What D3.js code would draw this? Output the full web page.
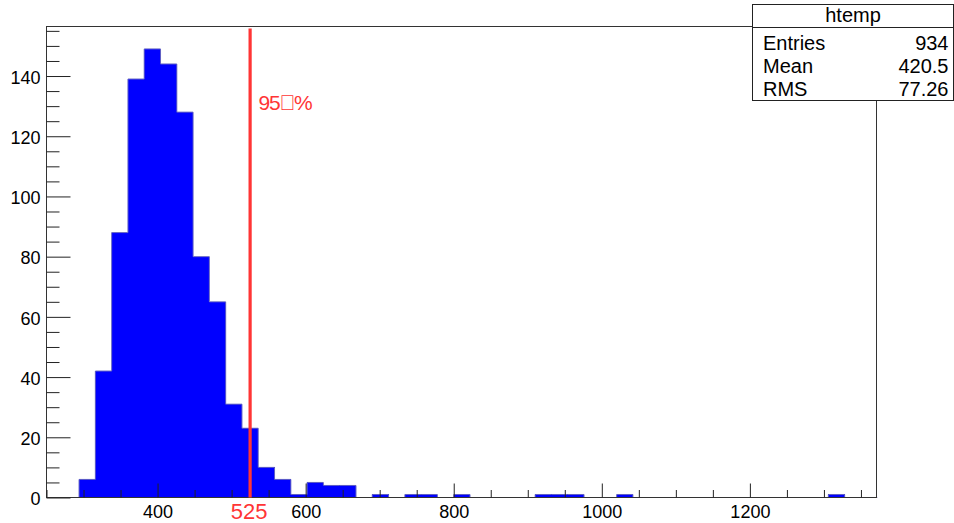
<!DOCTYPE html>
<html>
<head>
<meta charset="utf-8">
<script src="https://cdn.jsdelivr.net/npm/d3@7"></script>
<style>
  html, body { margin: 0; padding: 0; background: #fff; }
  svg { display: block; font-family: "Liberation Sans", Arial, Helvetica, sans-serif; }
</style>
</head>
<body>
<svg id="chart" width="954" height="523"></svg>
<script>
// ---- data ----
const histName = "htemp";
const binLow = 250;
const binWidth = 22;
const xMax = 1371;
const counts = [0, 0, 6, 42, 88, 139, 149, 144, 128, 80, 65, 31, 23, 10, 6, 1, 5, 4, 4, 0,
                1, 0, 1, 1, 0, 1, 0, 0, 0, 0, 1, 1, 1, 0, 0, 1, 0, 0, 0, 0,
                0, 0, 0, 0, 0, 0, 0, 0, 1, 0, 0];
const yMax = 156.45;
const xMajorTicks = [400, 600, 800, 1000, 1200];
const xMinorTicks = d3.range(250, 1371, 50);
const yMajorTicks = [0, 20, 40, 60, 80, 100, 120, 140];
const yMinorTicks = d3.range(0, 156, 5);
const cutValue = 525;
const cutTop = 155.8;
const cutLabel = "95\uE000%";
const cutTickLabel = "525";
const statsLabels = ["Entries", "Mean", "RMS"];
const statsValues = ["934", "420.5", "77.26"];

// ---- layout ----
const frame = { left: 46.5, right: 876.5, top: 26.5, bottom: 497.5 };
const svg = d3.select("#chart");

const x = d3.scaleLinear().domain([binLow, xMax]).range([frame.left, frame.right]);
const y = d3.scaleLinear().domain([0, yMax]).range([frame.bottom, frame.top]);

const allBins = counts.map((c, i) => ({ x0: binLow + i * binWidth, x1: binLow + (i + 1) * binWidth, c }));
const bins = allBins.filter(d => d.c > 0);

// bars (fill only)
svg.append("g").selectAll("rect").data(bins).join("rect")
  .attr("x", d => x(d.x0))
  .attr("width", d => x(d.x1) - x(d.x0))
  .attr("y", d => y(d.c))
  .attr("height", d => y(0) - y(d.c))
  .attr("fill", "#0000ff")
  .attr("shape-rendering", "crispEdges");

// histogram outline (step line)
const pts = [];
allBins.forEach(d => { pts.push([d.x0, d.c]); pts.push([d.x1, d.c]); });
svg.append("path")
  .attr("d", d3.line().x(p => x(p[0])).y(p => y(p[1]))(pts))
  .attr("fill", "none").attr("stroke", "#6262c4").attr("stroke-width", 1);

// frame
svg.append("rect")
  .attr("x", frame.left).attr("y", frame.top)
  .attr("width", frame.right - frame.left).attr("height", frame.bottom - frame.top)
  .attr("fill", "none").attr("stroke", "#333").attr("stroke-width", 1);

// x axis major
const gxMaj = svg.append("g").attr("transform", `translate(0,${frame.bottom})`)
  .call(d3.axisBottom(x).tickValues(xMajorTicks).tickSize(-14).tickPadding(8).tickFormat(d3.format("d")));
gxMaj.select(".domain").remove();
gxMaj.selectAll("line").attr("stroke", "#222");
gxMaj.selectAll("text").attr("font-size", 18).attr("fill", "#000");

const gxMin = svg.append("g").attr("transform", `translate(0,${frame.bottom})`)
  .call(d3.axisBottom(x).tickValues(xMinorTicks.filter(v => !xMajorTicks.includes(v))).tickSize(-7.5).tickFormat(""));
gxMin.select(".domain").remove();
gxMin.selectAll("line").attr("stroke", "#222");

// y axis major
const gyMaj = svg.append("g").attr("transform", `translate(${frame.left},0)`)
  .call(d3.axisLeft(y).tickValues(yMajorTicks).tickSize(-24).tickPadding(6).tickFormat(d3.format("d")));
gyMaj.select(".domain").remove();
gyMaj.selectAll("line").attr("stroke", "#222");
gyMaj.selectAll("text").attr("font-size", 18).attr("fill", "#000").attr("dy", "0.4em");

const gyMin = svg.append("g").attr("transform", `translate(${frame.left},0)`)
  .call(d3.axisLeft(y).tickValues(yMinorTicks.filter(v => !yMajorTicks.includes(v))).tickSize(-13).tickFormat(""));
gyMin.select(".domain").remove();
gyMin.selectAll("line").attr("stroke", "#222");

// cut line
const red = "#ff3535";
svg.append("line")
  .attr("x1", x(cutValue)).attr("x2", x(cutValue))
  .attr("y1", y(0)).attr("y2", y(cutTop))
  .attr("stroke", red).attr("stroke-width", 3.2);
svg.append("text")
  .attr("x", x(cutValue) + 8.5).attr("y", 109.5)
  .attr("font-size", 21).attr("fill", red)
  .attr("letter-spacing", -1.2)
  .text(cutLabel);
svg.append("text")
  .attr("x", x(cutValue) - 1).attr("y", 518.5)
  .attr("text-anchor", "middle")
  .attr("font-size", 22).attr("fill", red)
  .text(cutTickLabel);

// stats box
const box = { x: 752.5, y: 4.5, w: 201, h: 96 };
const gs = svg.append("g");
gs.append("rect").attr("x", box.x).attr("y", box.y).attr("width", box.w).attr("height", box.h)
  .attr("fill", "#fff").attr("stroke", "#222").attr("stroke-width", 1);
gs.append("line").attr("x1", box.x).attr("x2", box.x + box.w).attr("y1", 27.5).attr("y2", 27.5)
  .attr("stroke", "#222").attr("stroke-width", 1);
gs.append("text").attr("x", box.x + box.w / 2).attr("y", 21.5).attr("text-anchor", "middle")
  .attr("font-size", 20).text(histName);
const rowY = [50, 73, 96];
gs.selectAll("text.lab").data(statsLabels).join("text").attr("class", "lab")
  .attr("x", 763).attr("y", (d, i) => rowY[i]).attr("font-size", 20).text(d => d);
gs.selectAll("text.val").data(statsValues).join("text").attr("class", "val")
  .attr("x", 948.5).attr("y", (d, i) => rowY[i]).attr("text-anchor", "end").attr("font-size", 20).text(d => d);
</script>
</body>
</html>
